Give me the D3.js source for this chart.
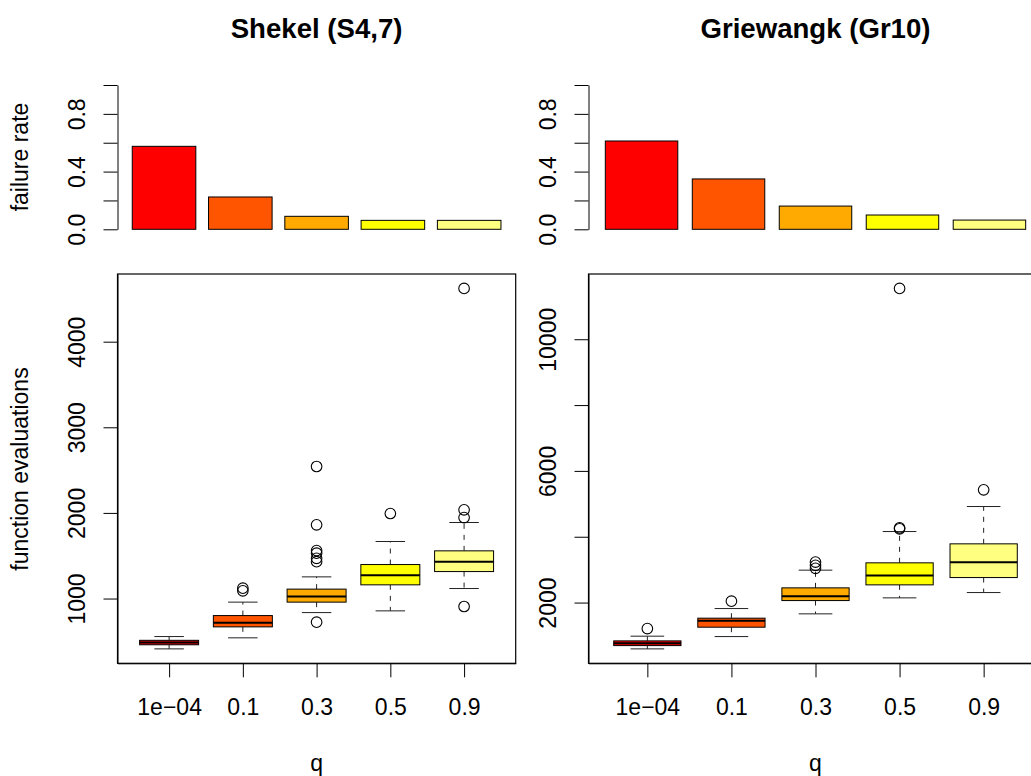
<!DOCTYPE html>
<html lang="en">
<head>
    <meta charset="UTF-8">
    <title>Failure rate and function evaluations</title>
    <script src="https://d3js.org/d3.v7.min.js"></script>
    <style>
        body { margin: 0; background: #fff; }
        svg text { font-family: "Liberation Sans", Arial, sans-serif; fill: #000; }
        .axis path, .axis line { stroke: #000; stroke-width: 1px; }
        .axis text { font-size: 23px; }
        .title { font-size: 27.6px; font-weight: bold; }
        .lab { font-size: 23px; }
    </style>
</head>
<body>
<svg id="chart" width="1031" height="776"></svg>
<script>
    // categories (q) and colours (heat.colors(5))
    const qLabels = ["1e\u221204", "0.1", "0.3", "0.5", "0.9"];
    const fills = ["#FF0000", "#FF5500", "#FFAA00", "#FFFF00", "#FFFF80"];

    // failure rate per q
    const shekelFail = [0.575, 0.224, 0.09, 0.062, 0.062];
    const griewFail = [0.612, 0.349, 0.161, 0.099, 0.064];

    // boxplot stats: [lower whisker, q1, median, q3, upper whisker]
    const shekelStats = [
        [412, 460, 486, 512, 556],
        [541, 669, 716, 801, 958],
        [836, 958, 1023, 1110, 1253],
        [856, 1160, 1273, 1397, 1666],
        [1117, 1315, 1429, 1557, 1888]
    ];
    const shekelOut = [
        [],
        [1121, 1090],
        [2542, 1861, 1560, 1530, 1470, 1430, 724],
        [1993],
        [4622, 2036, 1946, 907]
    ];
    const griewStats = [
        [593, 693, 766, 836, 979],
        [967, 1252, 1444, 1526, 1818],
        [1657, 2061, 2194, 2447, 2985],
        [2143, 2538, 2821, 3207, 4158],
        [2304, 2760, 3228, 3784, 4918]
    ];
    const griewOut = [
        [1210],
        [2043],
        [3230, 3130, 3040],
        [4270, 4240, 11544],
        [5425]
    ];

    const svg = d3.select("#chart");

    function drawPanel(opt) {
        const x0 = opt.x0, x1 = opt.x1;
        const cx = (x0 + x1) / 2;

        // title
        svg.append("text").attr("class", "title")
            .attr("x", cx).attr("y", 38)
            .attr("text-anchor", "middle")
            .text(opt.title);

        // ---- bar chart of failure rates ----
        const xb = d3.scaleLinear().domain([-0.032, 6.232]).range([x0, x1]);
        const yb = d3.scaleLinear().domain([0, 1]).range([229.3, 85]);

        svg.append("g")
            .selectAll("rect")
            .data(opt.fail)
            .join("rect")
            .attr("x", (d, i) => xb(0.2 + 1.2 * i))
            .attr("width", (d, i) => xb(1.2 + 1.2 * i) - xb(0.2 + 1.2 * i))
            .attr("y", d => yb(d))
            .attr("height", d => yb(0) - yb(d))
            .attr("fill", (d, i) => fills[i])
            .attr("stroke", "#000")
            .attr("stroke-width", 1);

        const ayb = svg.append("g").attr("class", "axis")
            .attr("transform", `translate(${x0},0)`)
            .call(d3.axisLeft(yb).tickValues([0, 0.2, 0.4, 0.6, 0.8, 1.0])
                .tickSize(14).tickSizeOuter(0)
                .tickFormat(d => [0, 0.4, 0.8].some(v => Math.abs(v - d) < 1e-9) ? d3.format(".1f")(d) : ""));
        rotateLabels(ayb);

        // ---- boxplots of function evaluations ----
        const xs = d3.scaleLinear().domain([0.3, 5.7]).range([x0, x1]);
        const all = opt.stats.flat().concat(opt.out.flat());
        const ext = d3.extent(all);
        const pad = (ext[1] - ext[0]) * 0.04;
        const ys = d3.scaleLinear().domain([ext[0] - pad, ext[1] + pad]).range([663.3, 274]);

        const g = svg.append("g");
        opt.stats.forEach((s, i) => {
            const c = xs(i + 1);
            const hw = xs(1.4) - xs(1);
            const sw = hw / 2;
            // whiskers (dashed)
            g.append("line").attr("x1", c).attr("x2", c)
                .attr("y1", ys(s[3])).attr("y2", ys(s[4]))
                .attr("stroke", "#222").attr("stroke-dasharray", "5,6");
            g.append("line").attr("x1", c).attr("x2", c)
                .attr("y1", ys(s[1])).attr("y2", ys(s[0]))
                .attr("stroke", "#222").attr("stroke-dasharray", "5,6");
            // staples
            [s[0], s[4]].forEach(v => {
                g.append("line").attr("x1", c - sw).attr("x2", c + sw)
                    .attr("y1", ys(v)).attr("y2", ys(v))
                    .attr("stroke", "#222");
            });
            // box
            g.append("rect")
                .attr("x", c - hw).attr("width", 2 * hw)
                .attr("y", ys(s[3])).attr("height", ys(s[1]) - ys(s[3]))
                .attr("fill", fills[i]).attr("stroke", "#000").attr("stroke-width", 1);
            // median
            g.append("line").attr("x1", c - hw).attr("x2", c + hw)
                .attr("y1", ys(s[2])).attr("y2", ys(s[2]))
                .attr("stroke", "#000").attr("stroke-width", 2);
            // outliers
            g.selectAll(null).data(opt.out[i]).join("circle")
                .attr("cx", c).attr("cy", d => ys(d)).attr("r", 5.3)
                .attr("fill", "none").attr("stroke", "#000").attr("stroke-width", 1.1);
        });

        // frame
        svg.append("rect")
            .attr("x", x0).attr("y", 274)
            .attr("width", x1 - x0).attr("height", 663.3 - 274)
            .attr("fill", "none").attr("stroke", "#000").attr("stroke-width", 1.2);

        const ays = svg.append("g").attr("class", "axis")
            .attr("transform", `translate(${x0},0)`)
            .call(d3.axisLeft(ys).tickValues(opt.yTicks)
                .tickSize(14).tickSizeOuter(0)
                .tickFormat(d => opt.yLabels.includes(d) ? String(d) : ""));
        rotateLabels(ays);

        svg.append("g").attr("class", "axis")
            .attr("transform", "translate(0,663.3)")
            .call(d3.axisBottom(xs).tickValues([1, 2, 3, 4, 5])
                .tickSize(14).tickSizeOuter(0).tickPadding(21.4)
                .tickFormat(d => qLabels[d - 1]));

        // x label
        svg.append("text").attr("class", "lab")
            .attr("x", cx).attr("y", 771)
            .attr("text-anchor", "middle").text("q");

        if (opt.ylabs) {
            svg.append("text").attr("class", "lab")
                .attr("transform", `translate(28,157) rotate(-90)`)
                .attr("text-anchor", "middle").text("failure rate");
            svg.append("text").attr("class", "lab")
                .attr("transform", `translate(28,469) rotate(-90)`)
                .attr("text-anchor", "middle").text("function evaluations");
        }
    }

    function rotateLabels(axisG) {
        axisG.selectAll(".tick text")
            .attr("x", null).attr("dy", null)
            .attr("text-anchor", "middle")
            .attr("transform", "translate(-33,0) rotate(-90)");
    }

    drawPanel({
        title: "Shekel (S4,7)", x0: 117.5, x1: 515.7,
        fail: shekelFail, stats: shekelStats, out: shekelOut,
        yTicks: [1000, 2000, 3000, 4000], yLabels: [1000, 2000, 3000, 4000],
        ylabs: true
    });
    drawPanel({
        title: "Griewangk (Gr10)", x0: 588.5, x1: 1042.5,
        fail: griewFail, stats: griewStats, out: griewOut,
        yTicks: [2000, 4000, 6000, 8000, 10000], yLabels: [2000, 6000, 10000],
        ylabs: false
    });
</script>
</body>
</html>
